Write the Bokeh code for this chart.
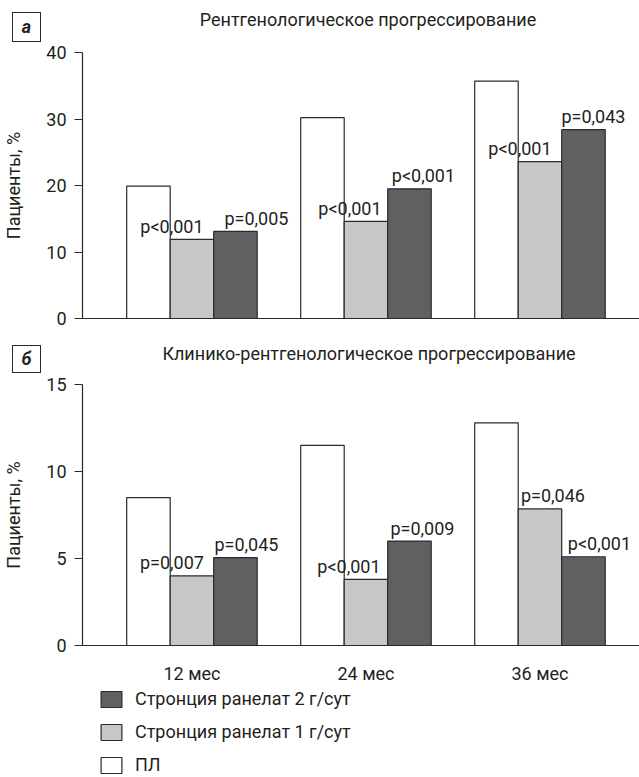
from bokeh.plotting import figure
from bokeh.models import (Legend, LegendItem, ColumnDataSource, Range1d,
                          FixedTicker, Div)
from bokeh.layouts import column
from bokeh.embed import file_html
from bokeh.resources import INLINE
from bokeh.core.properties import value

# ---------------- data ----------------
months = ["12 мес", "24 мес", "36 мес"]
series_names = ["ПЛ", "Стронция ранелат 1 г/сут", "Стронция ранелат 2 г/сут"]

a_title = "Рентгенологическое прогрессирование"
a_pl = [19.9, 30.2, 35.7]
a_sr1 = [11.9, 14.6, 23.6]
a_sr2 = [13.1, 19.5, 28.4]
a_p_sr1 = ["p<0,001", "p<0,001", "p<0,001"]
a_p_sr2 = ["p=0,005", "p<0,001", "p=0,043"]
a_ticks = [0, 10, 20, 30, 40]

b_title = "Клинико-рентгенологическое прогрессирование"
b_pl = [8.5, 11.5, 12.8]
b_sr1 = [4.0, 3.8, 7.85]
b_sr2 = [5.05, 6.0, 5.1]
b_p_sr1 = ["p=0,007", "p<0,001", "p=0,046"]
b_p_sr2 = ["p=0,045", "p=0,009", "p<0,001"]
b_ticks = [0, 5, 10, 15]

# ---------------- styles ----------------
FONT_NAME = "Roboto"
FONT = value(FONT_NAME)
TXT = "#231f20"
LINE = "#2a2a2a"
COLORS = {"ПЛ": "#ffffff", "sr1": "#c6c7c9", "sr2": "#5f6062"}
BW = 0.25
# pixel nudges of the p-value labels (style only)
a_dx1, a_dx2 = [-20, -16, -20], [21, 14, 10]
b_dx1, b_dx2 = [-20, -17, 13], [11, 13, 16]

W = 639
X_RANGE = (-0.629, 2.572)


def make_header(height, title, letter, title_cx, title_top, box_top, box_h):
    html = (
        f'<div style="position:relative;width:{W}px;height:{height}px;'
        f'font-family:Roboto,sans-serif;color:{TXT};font-size:18px;">'
        f'<div style="position:absolute;left:12px;top:{box_top}px;width:29px;'
        f'height:{box_h}px;box-sizing:border-box;border:1.2px solid {LINE};'
        f'font-weight:bold;font-style:italic;text-align:center;'
        f'line-height:{box_h - 2}px;">{letter}</div>'
        f'<div style="position:absolute;left:{title_cx}px;top:{title_top}px;'
        f'transform:translateX(-50%);white-space:nowrap;line-height:20px;">'
        f'{title}</div></div>'
    )
    return Div(text=html, width=W, height=height, margin=0)


def make_panel(height, top, bottom, ymax, ticks, pl, sr1, sr2, p1, p2,
               dx1, dx2, show_x):
    p = figure(width=W, height=height, output_backend="svg", toolbar_location=None,
               x_range=Range1d(*X_RANGE), y_range=Range1d(0, ymax),
               min_border_left=82, min_border_right=0, min_border_top=top,
               min_border_bottom=bottom)
    p.outline_line_color = None
    p.grid.visible = False
    idx = list(range(len(months)))
    sources = {}
    for key, off, vals in [("ПЛ", -BW, pl), ("sr1", 0, sr1), ("sr2", BW, sr2)]:
        src = ColumnDataSource(dict(x=[i + off for i in idx], top=vals))
        sources[key] = src
        p.vbar(x="x", top="top", bottom=0, width=BW, source=src,
               fill_color=COLORS[key], line_color=LINE, line_width=1.2)
    for off, vals, txt, dx in [(0, sr1, p1, dx1), (BW, sr2, p2, dx2)]:
        src = ColumnDataSource(dict(x=[i + off for i in idx], y=vals, t=txt, dx=dx))
        p.text(x="x", y="y", text="t", x_offset="dx", y_offset=-13, source=src,
               text_align="center", text_baseline="alphabetic",
               text_font=FONT, text_font_size="18px", text_color=TXT)

    yax = p.yaxis[0]
    yax.ticker = FixedTicker(ticks=ticks)
    yax.minor_tick_line_color = None
    yax.major_tick_in = 0
    yax.major_tick_out = 8
    yax.major_label_standoff = 8
    yax.axis_line_color = LINE
    yax.major_tick_line_color = LINE
    yax.axis_line_width = 1.2
    yax.major_label_text_font = FONT_NAME
    yax.major_label_text_font_size = "18px"
    yax.major_label_text_color = TXT
    yax.axis_label = "Пациенты, %"
    yax.axis_label_text_font = FONT_NAME
    yax.axis_label_text_font_size = "18px"
    yax.axis_label_text_font_style = "normal"
    yax.axis_label_text_color = TXT
    yax.axis_label_standoff = 19

    xax = p.xaxis[0]
    xax.axis_line_color = LINE
    xax.axis_line_width = 1.2
    xax.minor_tick_line_color = None
    xax.major_tick_line_color = None
    if show_x:
        xax.ticker = FixedTicker(ticks=idx)
        xax.major_label_overrides = {i: m for i, m in enumerate(months)}
        xax.major_label_text_font = FONT_NAME
        xax.major_label_text_font_size = "18px"
        xax.major_label_text_color = TXT
        xax.major_label_standoff = 11
    else:
        xax.ticker = FixedTicker(ticks=[])
        xax.major_label_text_font_size = "0px"
    return p, sources


ha = make_header(43, a_title, "а", 368, 10, 12, 30)
pa, _ = make_panel(292, 9, 17, 40, a_ticks, a_pl, a_sr1, a_sr2,
                   a_p_sr1, a_p_sr2, a_dx1, a_dx2, False)
hb = make_header(40, b_title, "б", 369, 9, 10, 28)
pb, b_src = make_panel(311, 9, 35, 15, b_ticks, b_pl, b_sr1, b_sr2,
                       b_p_sr1, b_p_sr2, b_dx1, b_dx2, True)

# legend strip: swatch renderers reuse panel b's data; their bars lie below
# this strip's y range (which starts above every value), so only legend glyphs show
pl_leg = figure(width=W, height=91, output_backend="svg", toolbar_location=None,
                x_range=Range1d(*X_RANGE), y_range=Range1d(20, 21),
                x_axis_type=None, y_axis_type=None,
                min_border_left=82, min_border_right=0, min_border_top=0,
                min_border_bottom=0)
pl_leg.outline_line_color = None
pl_leg.grid.visible = False
sw = {}
for key in ["sr2", "sr1", "ПЛ"]:
    sw[key] = pl_leg.vbar(x="x", top="top", bottom=0, width=BW, source=b_src[key],
                          fill_color=COLORS[key], line_color=LINE, line_width=1.2)

legend = Legend(items=[LegendItem(label=series_names[2], renderers=[sw["sr2"]]),
                       LegendItem(label=series_names[1], renderers=[sw["sr1"]]),
                       LegendItem(label=series_names[0], renderers=[sw["ПЛ"]])],
                location=(16, 2), orientation="vertical",
                glyph_width=26, glyph_height=20, label_height=20, spacing=12,
                label_standoff=11, padding=0, margin=0,
                border_line_alpha=0, background_fill_alpha=0,
                label_text_font=FONT_NAME, label_text_font_size="18px",
                label_text_color=TXT)
pl_leg.add_layout(legend)

layout = column(ha, pa, hb, pb, pl_leg, spacing=0)
open("out.html", "w").write(file_html(layout, INLINE))
